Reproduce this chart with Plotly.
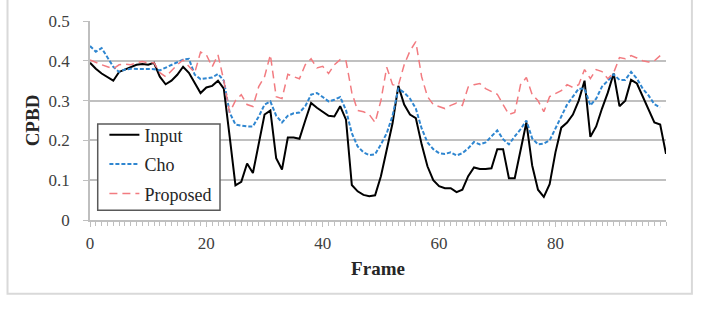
import plotly.graph_objects as go

input_vals = [0.395, 0.38, 0.368, 0.36, 0.35, 0.372, 0.378, 0.385, 0.39, 0.392,
              0.39, 0.395, 0.36, 0.341, 0.35, 0.365, 0.385, 0.37, 0.345, 0.319,
              0.333, 0.337, 0.35, 0.33, 0.21, 0.087, 0.096, 0.142, 0.118, 0.19,
              0.265, 0.275, 0.155, 0.127, 0.207, 0.207, 0.204, 0.25, 0.294, 0.282,
              0.272, 0.262, 0.26, 0.286, 0.252, 0.088, 0.072, 0.063, 0.06, 0.062,
              0.11, 0.18, 0.243, 0.337, 0.29, 0.265, 0.256, 0.19, 0.135, 0.1,
              0.085, 0.08, 0.08, 0.07, 0.076, 0.11, 0.132, 0.128, 0.128, 0.13,
              0.178, 0.178, 0.105, 0.105, 0.178, 0.245, 0.137, 0.076, 0.058, 0.09,
              0.17, 0.232, 0.245, 0.265, 0.3, 0.35, 0.209, 0.235, 0.28, 0.32,
              0.368, 0.286, 0.3, 0.352, 0.343, 0.31, 0.275, 0.245, 0.24, 0.166]

cho_vals = [0.437, 0.423, 0.432, 0.41, 0.385, 0.372, 0.378, 0.38, 0.38, 0.38,
            0.38, 0.379, 0.376, 0.383, 0.39, 0.398, 0.403, 0.405, 0.365, 0.354,
            0.356, 0.358, 0.367, 0.35, 0.27, 0.24, 0.237, 0.235, 0.235, 0.26,
            0.29, 0.298, 0.262, 0.245, 0.262, 0.268, 0.27, 0.286, 0.315, 0.319,
            0.309, 0.298, 0.302, 0.309, 0.276, 0.218, 0.185, 0.17, 0.163, 0.165,
            0.19, 0.218, 0.262, 0.33, 0.32, 0.305, 0.28, 0.23, 0.195, 0.178,
            0.168, 0.166, 0.17, 0.162, 0.168, 0.18, 0.196, 0.19, 0.195, 0.21,
            0.225, 0.203, 0.19, 0.21, 0.228, 0.25, 0.205, 0.19, 0.192, 0.2,
            0.231, 0.262, 0.29, 0.31, 0.33, 0.33, 0.288, 0.305, 0.335, 0.35,
            0.366, 0.352, 0.352, 0.372, 0.355, 0.33, 0.313, 0.291, 0.283]

proposed_vals = [0.402, 0.395, 0.39, 0.385, 0.38, 0.39, 0.392, 0.39, 0.395, 0.398,
                 0.395, 0.395, 0.37, 0.36, 0.375, 0.39, 0.402, 0.385, 0.37, 0.422,
                 0.415, 0.385, 0.415, 0.35, 0.27, 0.3, 0.315, 0.29, 0.285, 0.335,
                 0.36, 0.415, 0.31, 0.305, 0.366, 0.36, 0.355, 0.39, 0.405, 0.382,
                 0.386, 0.368, 0.39, 0.403, 0.4, 0.32, 0.275, 0.272, 0.265, 0.245,
                 0.3, 0.384, 0.34, 0.338, 0.39, 0.425, 0.448, 0.36, 0.31, 0.29,
                 0.284, 0.28, 0.288, 0.294, 0.288, 0.334, 0.34, 0.343, 0.33, 0.322,
                 0.316, 0.29, 0.265, 0.27, 0.34, 0.358, 0.315, 0.3, 0.272, 0.31,
                 0.318, 0.325, 0.34, 0.333, 0.34, 0.378, 0.355, 0.378, 0.373, 0.355,
                 0.37, 0.408, 0.405, 0.413, 0.407, 0.4, 0.397, 0.4, 0.413]

series_names = ["Input", "Cho", "Proposed"]
x_tick_vals = [0, 20, 40, 60, 80]
y_tick_vals = [0, 0.1, 0.2, 0.3, 0.4, 0.5]

FONT = "Liberation Serif"

fig = go.Figure()
fig.add_trace(go.Scatter(x=list(range(len(input_vals))), y=input_vals, mode="lines",
                         name=series_names[0], legendgroup="a",
                         line=dict(color="#000000", width=2)))
fig.add_trace(go.Scatter(x=list(range(len(cho_vals))), y=cho_vals, mode="lines",
                         name=series_names[1], legendgroup="b",
                         line=dict(color="#2f86d0", width=2, dash="4px,2px")))
fig.add_trace(go.Scatter(x=list(range(len(proposed_vals))), y=proposed_vals, mode="lines",
                         name=series_names[2], legendgroup="c",
                         line=dict(color="#f27b80", width=1.5, dash="8px,5px")))

fig.update_layout(
    width=702, height=310,
    margin=dict(l=90, r=36, t=16, b=90),
    paper_bgcolor="white", plot_bgcolor="white",
    font=dict(family=FONT, size=17, color="#262626"),
    showlegend=True,
    legend=dict(x=0.025, y=0.52, xanchor="left", yanchor="top",
                bgcolor="rgba(0,0,0,0)", borderwidth=0,
                font=dict(family=FONT, size=18, color="#262626"),
                traceorder="grouped", tracegroupgap=3),
    xaxis=dict(range=[0, 99], tickvals=x_tick_vals, showgrid=False, zeroline=False,
               showline=True, linecolor="#bfbfbf", linewidth=1.5,
               ticks="outside", ticklen=5, tickcolor="#bfbfbf",
               minor=dict(dtick=1, tick0=0, ticks="outside", ticklen=4, tickcolor="#bfbfbf"),
               tickfont=dict(family=FONT, size=17, color="#404040"),
               ticklabelstandoff=2,
               title=dict(text="<b>Frame</b>", font=dict(family=FONT, size=19, color="#262626"),
                          standoff=10)),
    yaxis=dict(range=[0, 0.5], tickvals=y_tick_vals, showgrid=True, gridcolor="#c0c0c0",
               gridwidth=1.5, zeroline=False, showline=True, linecolor="#bfbfbf",
               linewidth=1.5, ticks="outside", ticklen=5, tickcolor="#bfbfbf",
               tickfont=dict(family=FONT, size=17, color="#404040"),
               ticklabelstandoff=10,
               title=dict(text="<b>CPBD</b>", font=dict(family=FONT, size=19, color="#262626"),
                          standoff=4)),
)

# legend frame
fig.add_shape(type="rect", xref="paper", yref="paper",
              x0=0.0134, x1=0.2257, y0=0.049, y1=0.482,
              line=dict(color="#595959", width=1.5), fillcolor="white", layer="above")

# outer chart border
fig.add_shape(type="rect", xref="paper", yref="paper",
              x0=-0.1432, x1=1.045, y0=-0.37, y1=1.2,
              line=dict(color="#d9d9d9", width=2), fillcolor="rgba(0,0,0,0)", layer="below")

fig.write_html("out.html")
